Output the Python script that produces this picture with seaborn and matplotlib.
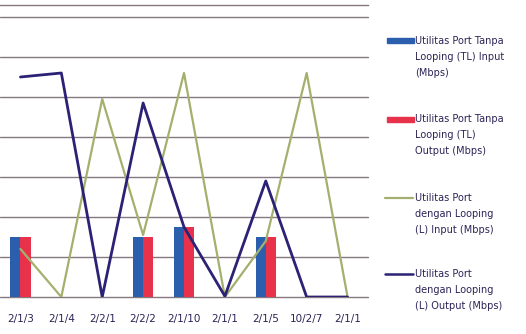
import numpy as np
import pandas as pd
import matplotlib
matplotlib.use("Agg")
import matplotlib.pyplot as plt
from matplotlib.lines import Line2D
from matplotlib.patches import Rectangle
import seaborn as sns

# Dates of the measurements (day/month/sequence)
categories = ["2/1/3", "2/1/4", "2/2/1", "2/2/2", "2/1/10", "2/1/1", "2/1/5", "10/2/7", "2/1/1"]

# Port utilisation without looping (bars)
tl_input = [1.5, 0.0, 0.0, 1.5, 1.75, 0.0, 1.5, 0.0, 0.0]
tl_output = [1.5, 0.0, 0.0, 1.5, 1.75, 0.0, 1.5, 0.0, 0.0]

# Port utilisation with looping (lines)
l_input = [1.2, 0.0, 4.95, 1.55, 5.6, 0.0, 1.4, 5.6, 0.0]
l_output = [5.5, 5.6, 0.0, 4.85, 1.75, 0.02, 2.9, 0.0, 0.0]

series_names = [
    "Utilitas Port Tanpa\nLooping (TL) Input\n(Mbps)",
    "Utilitas Port Tanpa\nLooping (TL)\nOutput (Mbps)",
    "Utilitas Port\ndengan Looping\n(L) Input (Mbps)",
    "Utilitas Port\ndengan Looping\n(L) Output (Mbps)",
]

blue = "#2b5fae"
red = "#e8324c"
green = "#a3b06e"
navy = "#2c2275"
grid_col = "#857880"
text_col = "#2b2456"

sns.set_theme(style="white")
plt.rcParams["font.family"] = ["DejaVu Sans"]

idx = np.arange(len(categories))
bars = pd.DataFrame({
    "pos": np.concatenate([idx, idx]),
    "value": tl_input + tl_output,
    "series": ["in"] * len(idx) + ["out"] * len(idx),
})
lines = pd.DataFrame({"pos": idx, "l_in": l_input, "l_out": l_output})

fig = plt.figure(figsize=(5.26, 3.34), dpi=100)
ax = fig.add_axes([0.0, 1 - 297 / 334, 368 / 526, 292 / 334])

# horizontal gridlines
for g in range(8):
    ax.axhline(g, color=grid_col, lw=1.0, zorder=0, clip_on=False)

sns.barplot(data=bars, x="pos", y="value", hue="series",
            palette={"in": blue, "out": red}, width=0.5, ax=ax,
            legend=False, saturation=1, linewidth=0, edgecolor="none",
            gap=0, zorder=2)
sns.lineplot(data=lines, x="pos", y="l_in", color=green, lw=1.6, ax=ax, zorder=3)
sns.lineplot(data=lines, x="pos", y="l_out", color=navy, lw=2.0, ax=ax, zorder=4)

ax.set_xlim(-0.5, len(categories) - 0.5)
ax.set_ylim(0, 7.3)
ax.set_xticks(idx)
ax.set_xticklabels(categories, fontsize=7.5, color=text_col)
ax.set_yticks([])
ax.tick_params(axis="x", length=0, pad=12)
ax.set_xlabel("")
ax.set_ylabel("")
for side in ["left", "right", "bottom"]:
    ax.spines[side].set_visible(False)
ax.spines["top"].set_color(grid_col)
ax.spines["top"].set_linewidth(1.0)

# legend on the right, handle aligned with the first text line
W, H = 526, 334
entries = [
    (series_names[0], "rect", blue, 40.5),
    (series_names[1], "rect", red, 119),
    (series_names[2], "line", green, 198),
    (series_names[3], "line", navy, 274),
]
for label, kind, col, ytop in entries:
    yf = 1 - ytop / H
    if kind == "rect":
        fig.add_artist(Rectangle((387 / W, yf - 2.5 / H), 27 / W, 5 / H,
                                 transform=fig.transFigure, color=col))
    else:
        fig.add_artist(Line2D([385 / W, 413 / W], [yf, yf],
                              transform=fig.transFigure, color=col,
                              lw=1.8 if col == navy else 1.6))
    fig.text(415 / W, yf + 5 / H, label, fontsize=7, color=text_col, va="top",
             ha="left", linespacing=1.75, transform=fig.transFigure)

fig.savefig("out.png", dpi=100)
